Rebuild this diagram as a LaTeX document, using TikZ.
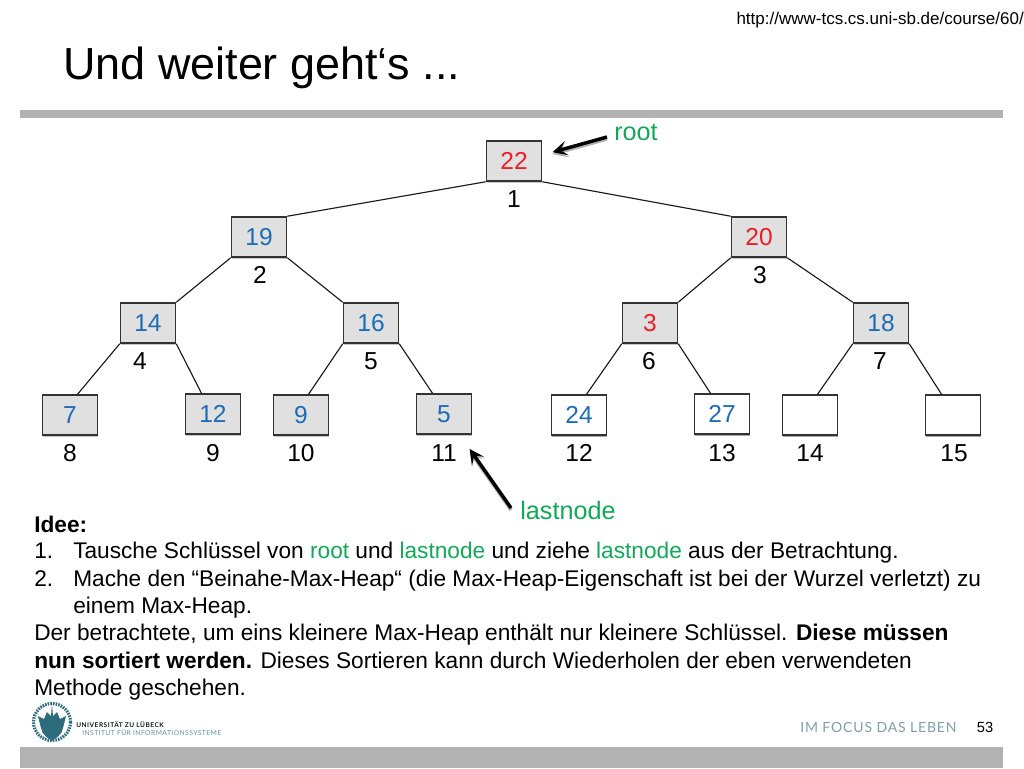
\documentclass[tikz,border=0pt]{standalone}
\usepackage{fontspec}
\setmainfont{Liberation Sans}
\newfontfamily\logofont[LetterSpace=6]{Lato}
\newfontfamily\logoboldfont[LetterSpace=8]{Lato Bold}
\usetikzlibrary{arrows.meta,shadows}
\definecolor{keyred}{HTML}{EE1C25}
\definecolor{keyblue}{HTML}{1D6CB5}
\definecolor{notegreen}{HTML}{12A85A}
\definecolor{barcolor}{HTML}{B2B2B2}
\definecolor{sealcolor}{HTML}{2C6C7C}
\definecolor{slogancolor}{HTML}{7F9FA8}
\tikzset{
  heapnode/.style={draw=black!80, line width=1.15pt, fill=black!12, minimum width=41.25pt, minimum height=30pt,
    inner sep=0pt, font=\fontsize{18.4}{20}\selectfont, drop shadow={shadow xshift=0pt, shadow yshift=-1.5pt, opacity=.45}},
  freenode/.style={heapnode, fill=white},
  heapedge/.style={draw=black!90, line width=.85pt},
  notearrow/.style={-{Stealth[length=11pt, width=11pt, inset=5pt]}, line width=2.6pt, black, preaction={draw=black!30, line width=2.6pt, transform canvas={yshift=-1.5pt}}},
  textline/.style={anchor=base west, inner sep=0pt, font=\fontsize{17}{20}\selectfont},
}
\begin{document}
\begin{tikzpicture}[x=.75pt, y=-.75pt]
   \useasboundingbox (0,0) rectangle (1024,768);
   % title and bars
   \node[anchor=base west, inner sep=0pt, font=\fontsize{33.7}{38}\selectfont] (title) at (63,79) {Und weiter geht‘s ...};
   \node[anchor=base east, inner sep=0pt, font=\fontsize{12.75}{14}\selectfont] (url) at (1024,24) {http://www-tcs.cs.uni-sb.de/course/60/};
   \fill[barcolor] (20,110) rectangle (1003,118);
   \fill[barcolor] (20,747) rectangle (1003,768);

   % heap keys
   \begin{scope}[every node/.style={heapnode}]
    \node[text=keyred] (v1) at (514,161) {22};
    \node[text=keyblue] (v2) at (259,237) {19};
    \node[text=keyred] (v3) at (759,237) {20};
    \node[text=keyblue] (v4) at (148,323) {14};
    \node[text=keyblue] (v5) at (371,323) {16};
    \node[text=keyred] (v6) at (650,323) {3};
    \node[text=keyblue] (v7) at (881,323) {18};
    \node[text=keyblue] (v8) at (70,415) {7};
    \node[text=keyblue] (v9) at (213,414) {12};
    \node[text=keyblue] (v10) at (301,415) {9};
    \node[text=keyblue] (v11) at (444,414) {5};
    \node[freenode, text=keyblue] (v12) at (579,415) {24};
    \node[freenode, text=keyblue] (v13) at (722,414) {27};
    \node[freenode] (v14) at (810,415) {};
    \node[freenode] (v15) at (953,415) {};
   \end{scope}

   % heap positions
   \begin{scope}[every node/.style={inner sep=0pt, font=\fontsize{18.4}{20}\selectfont}]
    \node (n1) at (514,199) {1};
    \node (n2) at (260,275) {2};
    \node (n3) at (760,275) {3};
    \node (n4) at (140,361) {4};
    \node (n5) at (371,361) {5};
    \node (n6) at (649,361) {6};
    \node (n7) at (880,361) {7};
    \node (n8) at (70,453) {8};
    \node (n9) at (213,453) {9};
    \node (n10) at (301,453) {10};
    \node (n11) at (444,453) {11};
    \node (n12) at (579,453) {12};
    \node (n13) at (722,453) {13};
    \node (n14) at (810,453) {14};
    \node (n15) at (954,453) {15};
   \end{scope}

   \begin{scope}[every edge/.style={heapedge}]
    \draw (v1.south west) edge (v2.north east);
    \draw (v1.south east) edge (v3.north west);
    \draw (v2.south west) edge (v4.north east);
    \draw (v2.south east) edge (v5.north west);
    \draw (v3.south west) edge (v6.north east);
    \draw (v3.south east) edge (v7.north west);
    \draw (v4.south west) edge (v8.70);
    \draw (v4.south east) edge (v9.119);
    \draw (v5.south west) edge (v10.70);
    \draw (v5.south east) edge (v11.119);
    \draw (v6.south west) edge (v12.70);
    \draw (v6.south east) edge (v13.119);
    \draw (v7.south west) edge (v14.70);
    \draw (v7.south east) edge (v15.119);
   \end{scope}

   % root and lastnode
   \begin{scope}[every node/.style={inner sep=0pt, text=notegreen, font=\fontsize{18.9}{22}\selectfont}]
    \node (lroot) at (636,132.5) {root};
    \node (llast) at (568,510.5) {lastnode};
   \end{scope}
   \coordinate (aroot) at (607,137);
   \coordinate (alast) at (511,508);
   \draw[notearrow, shorten >=8pt] (aroot) -- (v1.12);
   \draw[notearrow, shorten >=13pt] (alast) -- (v11.-53);

   % text
   \node[textline, font=\fontsize{17}{20}\selectfont\bfseries] (t1) at (34,532) {Idee:};
   \node[textline] (t2) at (34,558.5) {1.};
   \node[textline] (t3) at (73,558.5) {Tausche Schlüssel von \textcolor{notegreen}{root} und \textcolor{notegreen}{lastnode} und ziehe \textcolor{notegreen}{lastnode} aus der Betrachtung.};
   \node[textline] (t4) at (34,586) {2.};
   \node[textline] (t5) at (73,586) {Mache den “Beinahe-Max-Heap“ (die Max-Heap-Eigenschaft ist bei der Wurzel verletzt) zu};
   \node[textline] (t6) at (73,613.5) {einem Max-Heap.};
   \node[textline] (t7) at (34,640.5) {Der betrachtete, um eins kleinere Max-Heap enthält nur kleinere Schlüssel. \textbf{Diese müssen}};
   \node[textline] (t8) at (34,668) {\textbf{nun sortiert werden.} Dieses Sortieren kann durch Wiederholen der eben verwendeten};
   \node[textline] (t9) at (34,695) {Methode geschehen.};

   % footer
   \draw[sealcolor, line width=2.4pt, dash pattern=on 1.2pt off .8pt] (52,722) circle (18.5);
   \fill[sealcolor] (38,716) -- (44,719) -- (47,712) -- (51,716) -- (52,704) -- (53,716) -- (57,712) -- (60,719) -- (66,716)
     -- (63,728) .. controls (62,735) and (56,738) .. (52,741) .. controls (48,738) and (42,735) .. (41,728) -- cycle;
   \node[anchor=west, inner sep=0pt, text=black!75!sealcolor, font=\logoboldfont\fontsize{4.9}{6}\selectfont] (uni) at (76,725) {UNIVERSITÄT ZU LÜBECK};
   \node[anchor=west, inner sep=0pt, text=slogancolor!70!sealcolor, font=\logofont\fontsize{5.1}{6}\selectfont] (inst) at (82,732) {INSTITUT FÜR INFORMATIONSSYSTEME};
   \node[anchor=west, inner sep=0pt, text=slogancolor, font=\logofont\fontsize{10.5}{12}\selectfont] (slogan) at (800,727) {IM FOCUS DAS LEBEN};
   \node[inner sep=0pt, font=\fontsize{11}{13}\selectfont] (page) at (985,727) {53};
\end{tikzpicture}
\end{document}
